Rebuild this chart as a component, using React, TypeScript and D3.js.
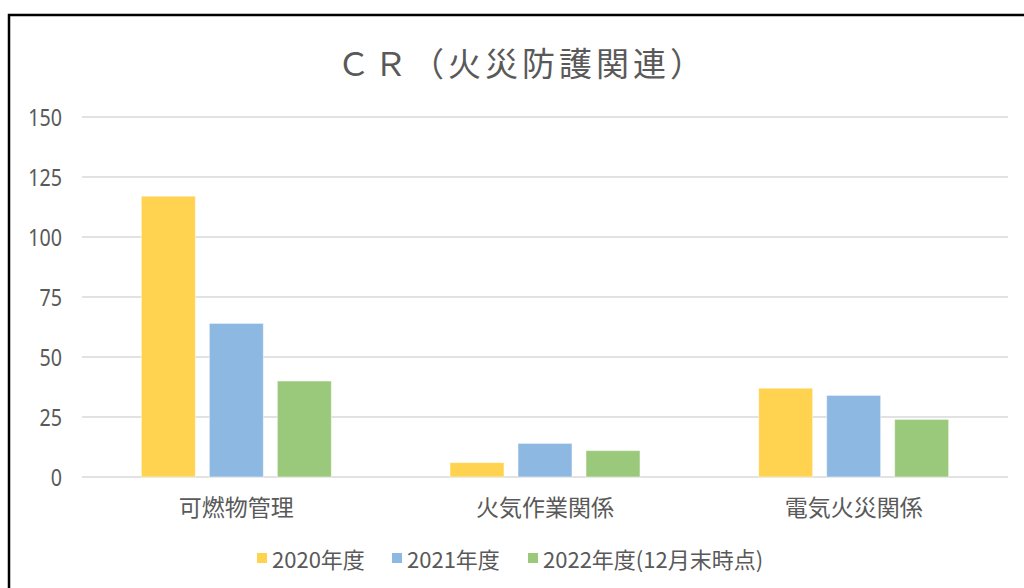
import React from "react";
import * as d3 from "d3";

const categories = ["可燃物管理", "火気作業関係", "電気火災関係"];
const seriesNames = ["2020年度", "2021年度", "2022年度(12月末時点)"];
const values2020 = [117, 6, 37];
const values2021 = [64, 14, 34];
const values2022 = [40, 11, 24];
const seriesValues = [values2020, values2021, values2022];
const seriesColors = ["#FFD24F", "#8DB8E2", "#9BC97B"];
const yTicks = [0, 25, 50, 75, 100, 125, 150];
const title = "ＣＲ（火災防護関連）";

const W = 1024;
const H = 588;
const plotLeft = 82;
const plotRight = 1008;
const plotTop = 117;
const plotBottom = 477;
const textColor = "#595959";
const numFont = "'Noto Sans', 'Noto Sans CJK JP', sans-serif";
const cjkFont = "'Noto Sans CJK JP', sans-serif";

export default function App() {
  const x = d3.scaleBand<string>().domain(categories).range([plotLeft, plotRight]).paddingInner(0).paddingOuter(0);
  const bw = x.bandwidth();
  const groupW = 190;
  const xi = d3
    .scaleBand<number>()
    .domain(d3.range(seriesNames.length))
    .range([(bw - groupW) / 2, (bw + groupW) / 2])
    .paddingInner(14 / 68)
    .paddingOuter(0);
  const y = d3.scaleLinear().domain([0, 150]).range([plotBottom, plotTop]);

  const legendItems = [
    { sq: 257, tx: 272 },
    { sq: 392, tx: 407 },
    { sq: 528, tx: 543 },
  ];

  return (
    <svg width={W} height={H} style={{ position: "absolute", left: 0, top: 0, background: "#fff" }}>
      <rect x={0} y={0} width={W} height={H} fill="#fff" />
      <rect x={9} y={15} width={W + 20} height={H + 20} fill="none" stroke="#000" strokeWidth={2.5} />
      <text x={522} y={62} textAnchor="middle" dominantBaseline="central" fontFamily={cjkFont} fontSize={33} letterSpacing={4} fill={textColor}>
        {title}
      </text>
      {yTicks.map((t) => (
        <g key={t}>
          <line x1={plotLeft} x2={plotRight} y1={y(t)} y2={y(t)} stroke="#D9D9D9" strokeWidth={1.5} />
          <g transform={`translate(62,${y(t)}) scale(0.82,1)`}>
            <text x={0} y={0} textAnchor="end" dominantBaseline="central" fontFamily={numFont} fontSize={24} fill={textColor}>
              {t}
            </text>
          </g>
        </g>
      ))}
      {categories.map((c, ci) => (
        <g key={c}>
          {seriesValues.map((vals, si) => (
            <rect
              key={si}
              x={(x(c) as number) + (xi(si) as number)}
              y={y(vals[ci])}
              width={xi.bandwidth()}
              height={plotBottom - y(vals[ci])}
              fill={seriesColors[si]}
              stroke="#fff"
              strokeOpacity={0.5}
              strokeWidth={1}
            />
          ))}
          <text
            x={(x(c) as number) + bw / 2}
            y={506}
            textAnchor="middle"
            dominantBaseline="central"
            fontFamily={cjkFont}
            fontSize={23}
            fill={textColor}
          >
            {c}
          </text>
        </g>
      ))}
      {seriesNames.map((s, si) => (
        <g key={s}>
          <rect x={legendItems[si].sq} y={553} width={10} height={10} fill={seriesColors[si]} />
          <text x={legendItems[si].tx} y={558} dominantBaseline="central" fontFamily={cjkFont} fontSize={22} fill={textColor}>
            {s}
          </text>
        </g>
      ))}
    </svg>
  );
}
